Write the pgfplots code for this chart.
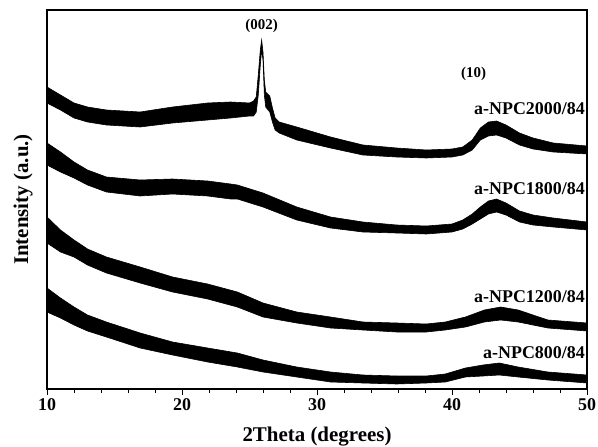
\documentclass[border=0pt]{standalone}
\usepackage{pgfplots}
\pgfplotsset{compat=1.18}
\usepackage{fontspec}
\setmainfont{Liberation Serif}
\begin{document}
\begin{tikzpicture}
\begin{axis}[
  scale only axis, width=540bp, height=379bp,
  xmin=10, xmax=50, ymin=0, ymax=379,
  xtick={10,20,30,40,50}, minor x tick num=4,
  xtick pos=bottom, tick align=outside,
  ytick=\empty,
  major tick length=6bp, minor tick length=4bp,
  axis line style={line width=1.1bp},
  every tick/.style={black, line width=1bp},
  /pgf/number format/assume math mode=true,
  ticklabel style={font=\fontsize{18}{18}\selectfont\bfseries},
  xlabel={2Theta (degrees)}, ylabel={Intensity (a.u.)},
  label style={font=\fontsize{21}{21}\selectfont\bfseries},
  xlabel style={at={(axis description cs:0.5,-0.1266)}, anchor=center},
  ylabel style={at={(axis description cs:-0.0444,0.5)}, anchor=center},
  clip=false,
]
% a-NPC2000/84 (band: upper edge then lower edge)
\addplot[fill=black, draw=black, line width=0.6bp] coordinates {
(10,302) (11,294) (12,286) (13,282) (14.4,279) (16.9,277) (19.3,282) (21.9,286)
(23.6,287) (25,286) (25.3,288) (25.5,292) (25.65,314) (25.8,339) (25.9,349)
(26,337) (26.1,309) (26.2,297) (26.5,293) (26.7,281) (26.9,271) (27.2,267)
(28.5,262) (31,252) (33.4,244) (35.9,241) (38.1,239) (40,240) (40.8,242)
(41.5,249) (42.1,261) (42.7,267) (43.3,268) (44,264) (45,256) (46,251) (47.5,246) (50,243)
(50,235) (47.5,237) (46,240) (45,244) (44,251) (43.3,254) (42.7,253) (42.1,249)
(41.5,239) (40.8,234) (40,232) (38.1,231) (35.9,232) (33.4,234) (31,241) (28.5,249)
(27.2,256) (26.9,259) (26.7,267) (26.5,277) (26.2,282) (26.1,294) (26,329) (25.9,339)
(25.8,324) (25.65,294) (25.5,277) (25.3,273) (25,273) (23.6,271) (21.9,269) (19.3,266)
(16.9,262) (14.4,264) (13,267) (12,271) (11,279) (10,286)
} -- cycle;
% a-NPC1800/84
\addplot[fill=black, draw=black, line width=0.6bp] coordinates {
(10,246) (11,237) (12,227) (13,219) (14.4,212) (16.9,209) (19.3,210) (21.9,208)
(23.6,205) (24.1,204) (26,196) (28.5,182) (31,172) (33.4,167) (35.9,164) (38.1,163)
(40,165) (40.8,169) (41.5,175) (42.1,182) (42.7,188) (43.3,190) (44,186) (45,178)
(46,174) (47.5,171) (50,167)
(50,159) (47.5,162) (46,164) (45,167) (44,174) (43.3,177) (42.7,175) (42.1,170)
(41.5,165) (40.8,160) (40,157) (38.1,155) (35.9,156) (33.4,157) (31,161) (28.5,169)
(26,182) (24.1,190) (23.6,190) (21.9,193) (19.3,195) (16.9,193) (14.4,197) (13,204)
(12,211) (11,217) (10,224)
} -- cycle;
% a-NPC1200/84
\addplot[fill=black, draw=black, line width=0.6bp] coordinates {
(10,172) (11,159) (12,149) (13,140) (14.4,132) (16.9,122) (19.3,112) (21.9,105)
(24.1,97) (26,86) (28.5,77) (31,72) (33.4,67) (35.9,66) (38.1,65) (39.5,67) (41,72)
(42.4,79) (43.6,82) (44.9,79) (46,74) (47.1,69) (50,66)
(50,58) (47.1,61) (46,64) (44.9,67) (43.6,69) (42.4,67) (41,62) (39.5,59) (38.1,57)
(35.9,57) (33.4,59) (31,61) (28.5,66) (26,72) (24.1,82) (21.9,90) (19.3,97)
(16.9,106) (14.4,116) (13,124) (12,132) (11,137) (10,146)
} -- cycle;
% a-NPC800/84
\addplot[fill=black, draw=black, line width=0.6bp] coordinates {
(10,101) (11,91) (12,82) (13,74) (14.4,67) (16.9,56) (19.3,47) (21.9,41) (24.1,36)
(26,29) (28.5,22) (31,17) (33.4,14) (35.9,13) (38.1,13) (39.5,15) (41,21) (42.3,24)
(43.5,26) (44.9,22) (47.1,17) (50,14)
(50,6) (47.1,9) (44.9,12) (43.5,14) (42.3,13) (41,12) (39.5,7) (38.1,6) (35.9,5)
(33.4,6) (31,7) (28.5,12) (26,17) (24.1,22) (21.9,27) (19.3,34) (16.9,41) (14.4,52)
(13,58) (12,64) (11,71) (10,77)
} -- cycle;
\node[anchor=base, inner sep=0pt, font=\fontsize{15}{15}\selectfont\bfseries] at (axis cs:25.9,359) {(002)};
\node[anchor=base, inner sep=0pt, font=\fontsize{15}{15}\selectfont\bfseries] at (axis cs:41.6,311) {(10)};
\node[anchor=base east, inner sep=0pt, font=\fontsize{18}{18}\selectfont\bfseries] at (axis cs:49.85,274) {a-NPC2000/84};
\node[anchor=base east, inner sep=0pt, font=\fontsize{18}{18}\selectfont\bfseries] at (axis cs:49.85,194) {a-NPC1800/84};
\node[anchor=base east, inner sep=0pt, font=\fontsize{18}{18}\selectfont\bfseries] at (axis cs:49.85,87) {a-NPC1200/84};
\node[anchor=base east, inner sep=0pt, font=\fontsize{18}{18}\selectfont\bfseries] at (axis cs:49.85,31) {a-NPC800/84};
\end{axis}
\pgfresetboundingbox
\path ([shift={(-47bp,-58bp)}]current axis.south west) rectangle ([shift={(11bp,10bp)}]current axis.north east);
\end{tikzpicture}
\end{document}
